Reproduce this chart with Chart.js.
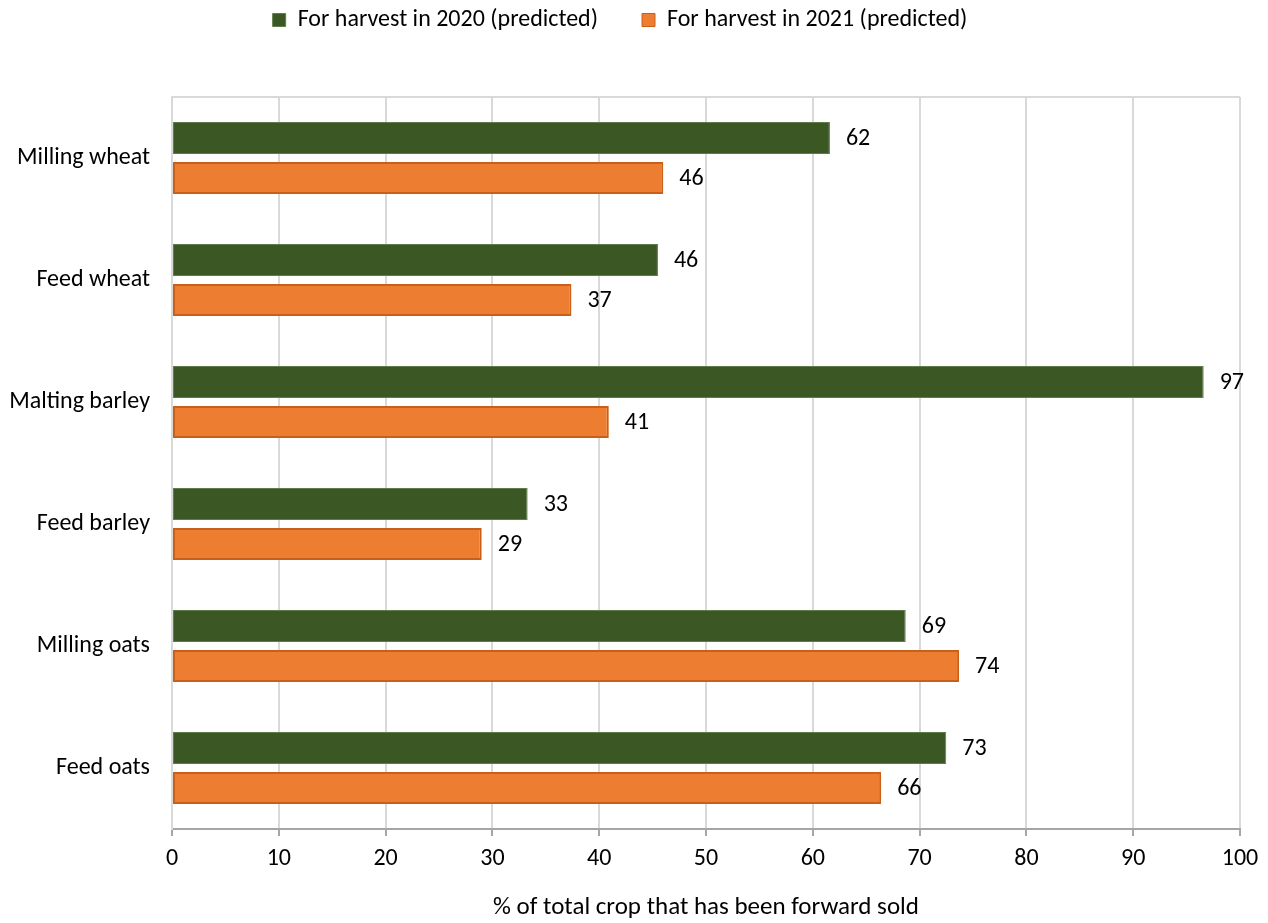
<!DOCTYPE html>
<html>
<head>
<meta charset="utf-8">
<title>Forward selling of crops</title>
<script src="https://cdn.jsdelivr.net/npm/chart.js@4/dist/chart.umd.min.js"></script>
<style>
  html, body { margin: 0; padding: 0; background: #ffffff; }
  #wrap { width: 1268px; height: 923px; position: relative; }
</style>
</head>
<body>
<div id="wrap"><canvas id="chart"></canvas></div>
<script>
// Crop categories and share of crop forward sold (%)
const categories = ['Milling wheat', 'Feed wheat', 'Malting barley', 'Feed barley', 'Milling oats', 'Feed oats'];
const harvest2020 = [61.6, 45.5, 96.6, 33.3, 68.7, 72.5];
const harvest2021 = [46.0, 37.4, 40.9, 29.0, 73.7, 66.4];
const seriesNames = ['For harvest in 2020 (predicted)', 'For harvest in 2021 (predicted)'];
const xTickMin = 0;
const xTickMax = 100;
const xTickStep = 10;
const xAxisTitle = '% of total crop that has been forward sold';

const FONT = "Carlito, Calibri, Lato, 'Liberation Sans', sans-serif";

// Writes the rounded value just past the end of each bar
const valueLabels = {
  id: 'valueLabels',
  afterDatasetsDraw(chart) {
    const ctx = chart.ctx;
    ctx.save();
    ctx.font = '24px ' + FONT;
    ctx.fillStyle = '#000000';
    ctx.textAlign = 'left';
    ctx.textBaseline = 'middle';
    chart.data.datasets.forEach((ds, di) => {
      const meta = chart.getDatasetMeta(di);
      meta.data.forEach((bar, i) => {
        ctx.fillText(String(Math.round(ds.data[i])), bar.x + 16, bar.y + 1);
      });
    });
    ctx.restore();
  }
};

// Leaves room between the legend row and the plot area
const legendSpacing = {
  id: 'legendSpacing',
  beforeInit(chart) {
    const origFit = chart.legend.fit;
    chart.legend.fit = function () {
      origFit.bind(chart.legend)();
      this.height = 97;
    };
  }
};

new Chart(document.getElementById('chart'), {
  type: 'bar',
  data: {
    labels: categories,
    datasets: [
      {
        label: seriesNames[0],
        data: harvest2020,
        backgroundColor: '#3b5724',
        borderColor: '#5f7c4b',
        borderWidth: 1,
        borderSkipped: false,
        categoryPercentage: 0.656,
        barPercentage: 0.8
      },
      {
        label: seriesNames[1],
        data: harvest2021,
        backgroundColor: '#ed7d31',
        borderColor: '#c9601a',
        borderWidth: 2,
        borderSkipped: false,
        categoryPercentage: 0.656,
        barPercentage: 0.8
      }
    ]
  },
  options: {
    indexAxis: 'y',
    responsive: true,
    maintainAspectRatio: false,
    animation: false,
    layout: { padding: { left: 0, right: 28, top: 0, bottom: 0 } },
    plugins: {
      tooltip: { enabled: false },
      legend: {
        position: 'top',
        align: 'center',
        labels: {
          boxWidth: 13,
          boxHeight: 13,
          padding: 8,
          color: '#000000',
          font: { family: FONT, size: 24 },
          generateLabels(chart) {
            return chart.data.datasets.map((ds, i) => ({
              text: i === 0 ? ds.label + '\u2003\u2002' : ds.label,
              fillStyle: ds.backgroundColor,
              strokeStyle: ds.borderColor,
              lineWidth: 1,
              hidden: false,
              datasetIndex: i,
              fontColor: '#000000'
            }));
          }
        }
      }
    },
    scales: {
      x: {
        type: 'linear',
        min: xTickMin,
        max: xTickMax,
        ticks: {
          stepSize: xTickStep,
          padding: 9,
          color: '#000000',
          font: { family: FONT, size: 24 }
        },
        grid: {
          color: '#d9d9d9',
          lineWidth: 2,
          drawTicks: true,
          tickLength: 7,
          tickColor: '#a6a6a6',
          tickWidth: 2
        },
        border: { display: true, color: '#a6a6a6', width: 2 },
        title: {
          display: true,
          text: xAxisTitle,
          color: '#000000',
          font: { family: FONT, size: 25 },
          padding: { top: 0, bottom: 0 }
        },
        afterFit(scale) { scale.height = 94; }
      },
      y: {
        type: 'category',
        ticks: {
          padding: 22,
          color: '#000000',
          font: { family: FONT, size: 24 }
        },
        grid: {
          drawTicks: false,
          lineWidth: 2,
          color: (ctx) => (ctx.index === 0 ? '#d9d9d9' : 'rgba(0,0,0,0)')
        },
        border: { display: true, color: '#d9d9d9', width: 2 },
        afterFit(scale) { scale.width = 172; }
      }
    }
  },
  plugins: [valueLabels, legendSpacing]
});
</script>
</body>
</html>
